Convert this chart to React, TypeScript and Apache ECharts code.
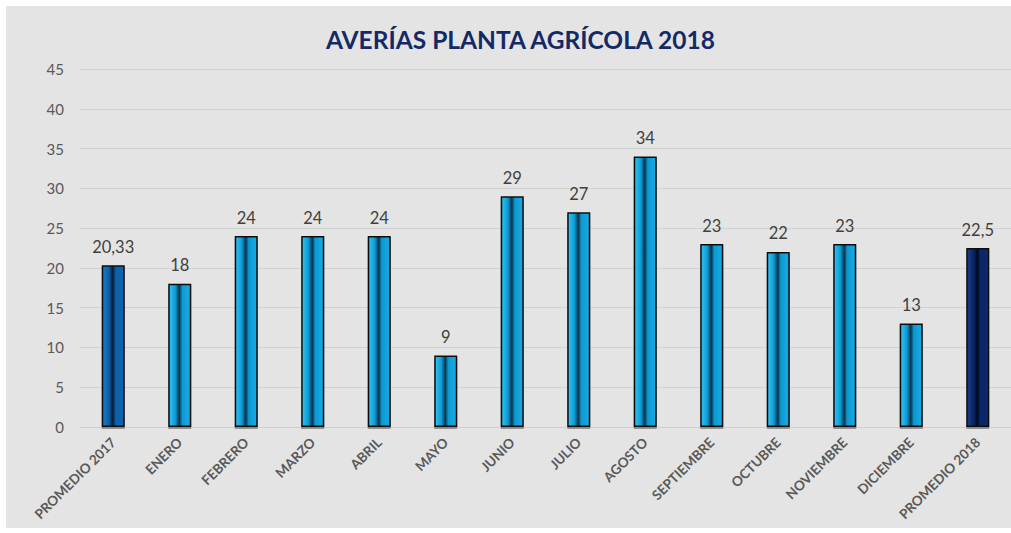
import React, { useEffect, useRef } from "react";
import * as echarts from "echarts";

const categories = [
  "PROMEDIO 2017", "ENERO", "FEBRERO", "MARZO", "ABRIL", "MAYO", "JUNIO",
  "JULIO", "AGOSTO", "SEPTIEMBRE", "OCTUBRE", "NOVIEMBRE", "DICIEMBRE", "PROMEDIO 2018",
];
const values = [20.33, 18, 24, 24, 24, 9, 29, 27, 34, 23, 22, 23, 13, 22.5];
const yTicks = { min: 0, max: 45, interval: 5 };
const titleText = "AVERÍAS PLANTA AGRÍCOLA 2018";

function grad(edgeL: string, mid: string, dark: string, edgeR: string) {
  return new echarts.graphic.LinearGradient(0, 0, 1, 0, [
    { offset: 0, color: edgeL },
    { offset: 0.3, color: mid },
    { offset: 0.48, color: dark },
    { offset: 0.62, color: mid },
    { offset: 1, color: edgeR },
  ]);
}

export default function App() {
  const ref = useRef<HTMLDivElement>(null);
  useEffect(() => {
    document.body.style.margin = "0";
    const chart = echarts.init(ref.current!, undefined, { renderer: "svg" });
    const light = grad("#2ec6f8", "#0f9ad2", "#05324c", "#16aae2");
    const first = grad("#1a7ccc", "#0a60a8", "#031c38", "#0a64ae");
    const last = grad("#1c3c8a", "#0c2566", "#020818", "#0e2a6c");
    const data = values.map((v, i) => ({
      value: v,
      itemStyle: {
        color: i === 0 ? first : i === values.length - 1 ? last : light,
      },
    }));
    chart.setOption({
      animation: false,
      backgroundColor: "#ffffff",
      graphic: [
        {
          type: "rect",
          shape: { x: 6, y: 6, width: 1020, height: 522 },
          style: { fill: "#e4e4e4" },
          z: -10,
          silent: true,
        },
      ],
      title: {
        text: titleText,
        left: 321,
        top: 22,
        textStyle: {
          fontFamily: "Lato",
          fontWeight: "bold",
          fontSize: 24.5,
          color: "#142a66",
        },
      },
      grid: { left: 80, right: -4, top: 69, bottom: 106 },
      xAxis: {
        type: "category",
        data: categories,
        axisLine: { lineStyle: { color: "#cfcfcf", width: 1 } },
        axisTick: { show: false },
        axisLabel: {
          rotate: 45,
          interval: 0,
          margin: 13,
          fontFamily: "Lato",
          fontWeight: "bold",
          fontSize: 13.5,
          color: "#595959",
        },
      },
      yAxis: {
        type: "value",
        min: yTicks.min,
        max: yTicks.max,
        interval: yTicks.interval,
        axisLine: { show: false },
        axisTick: { show: false },
        splitLine: { lineStyle: { color: "#d2d2d2", width: 1 } },
        axisLabel: {
          fontFamily: "Lato",
          fontSize: 15,
          color: "#595959",
          margin: 16,
        },
      },
      series: [
        {
          type: "bar",
          data,
          barWidth: 23,
          itemStyle: {
            borderColor: "#111111",
            borderWidth: 1.5,
            shadowColor: "rgba(0,0,0,0.35)",
            shadowOffsetY: 2,
            shadowBlur: 1,
          },
          label: {
            show: true,
            position: "top",
            distance: 10,
            fontFamily: "Lato",
            fontSize: 16.5,
            color: "#404040",
            formatter: (p: any) => String(p.value).replace(".", ","),
          },
        },
      ],
    });
    return () => chart.dispose();
  }, []);
  return (
    <div style={{ width: 1011, height: 533, overflow: "hidden" }}>
      <div ref={ref} style={{ width: 1011, height: 533 }} />
    </div>
  );
}
